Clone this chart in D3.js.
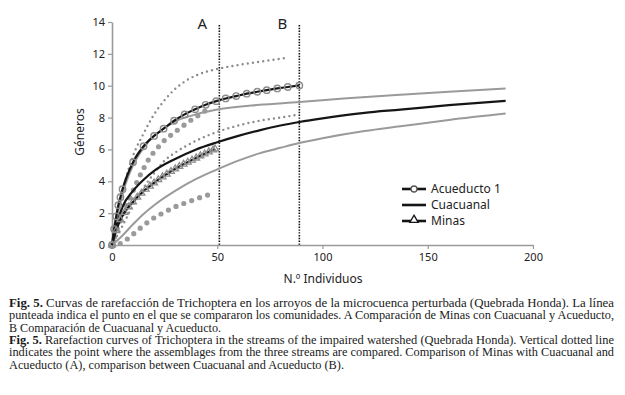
<!DOCTYPE html>
<html lang="es">
<head>
  <meta charset="UTF-8">
  <title>Fig. 5</title>
  <script src="https://d3js.org/d3.v7.min.js"></script>
  <style>
    * { margin: 0; padding: 0; box-sizing: border-box; }
    body { background: #fff; font-family: "Noto Sans", Arial, sans-serif; }
    .tick text { font-family: "Noto Sans", Arial, sans-serif; font-size: 11px; fill: #222; }
    .caption { font-family: "Liberation Serif", "Times New Roman", serif; font-size: 11.6px; fill: #1a1a1a; }
  </style>
</head>
<body>
<div id="chart"></div>
<script>
// Acueducto 1 (media + intervalos)
const acuN  = [0, 1, 2, 3, 4, 5, 10, 15, 20, 24.5, 29.5, 34.5, 39.5, 44.5, 49.5, 54, 59, 64, 69, 73.5, 78.5, 83.5, 89];
const acuS  = [0, 1.0, 1.8, 2.5, 3.0, 3.5, 5.2, 6.2, 6.85, 7.3, 7.8, 8.2, 8.52, 8.8, 9.03, 9.2, 9.35, 9.5, 9.62, 9.72, 9.83, 9.92, 10.02];
const acuUpN = [0, 2, 5, 10, 15, 20, 25, 30, 35, 40, 50, 60, 70, 83];
const acuUpS = [0, 1.6, 3.4, 5.6, 7.0, 8.2, 9.1, 9.8, 10.3, 10.65, 11.05, 11.3, 11.5, 11.75];
const acuLoN = [0, 5, 10, 15, 20, 25, 30, 35, 40, 50, 60, 70, 80, 89];
const acuLoS = [0, 1.2, 2.5, 3.6, 4.5, 5.3, 5.8, 6.2, 6.55, 7.1, 7.5, 7.8, 8.0, 8.2];

// Cuacuanal
const cuaN  = [0, 2, 5, 10, 15, 20, 30, 40, 50, 60, 70, 80, 89, 100, 120, 137, 160, 187];
const cuaS  = [0, 1.2, 2.4, 3.4, 4.1, 4.65, 5.4, 6.0, 6.45, 6.85, 7.2, 7.5, 7.72, 7.95, 8.3, 8.5, 8.78, 9.05];
const cuaUpN = [0, 2, 5, 10, 15, 20, 25, 30, 40, 50, 70, 89, 110, 137, 160, 187];
const cuaUpS = [0, 1.5, 3.2, 5.0, 6.1, 6.85, 7.35, 7.75, 8.2, 8.5, 8.8, 8.97, 9.2, 9.44, 9.62, 9.82];
const cuaLoN = [0, 5, 10, 15, 20, 30, 40, 50, 60, 70, 80, 89, 100, 120, 137, 160, 187];
const cuaLoS = [0, 0.6, 1.3, 1.95, 2.5, 3.4, 4.15, 4.75, 5.3, 5.75, 6.1, 6.4, 6.7, 7.15, 7.45, 7.85, 8.25];

// Minas
const minN  = [0, 2, 4, 6, 8, 10, 12, 14, 16, 18, 20, 22, 24, 26, 28, 30, 32, 34, 36, 38, 40, 42, 44, 46, 48, 49];
const minS  = [0, 0.9, 1.6, 2.05, 2.4, 2.7, 3.0, 3.25, 3.5, 3.7, 3.9, 4.1, 4.28, 4.45, 4.62, 4.78, 4.93, 5.07, 5.2, 5.33, 5.46, 5.6, 5.72, 5.85, 5.97, 6.03];
const minUpN = [0, 3, 6, 9, 12, 15, 18, 21, 24, 28, 32, 36, 40, 44, 47];
const minUpS = [0, 1.2, 2.2, 3.1, 4.0, 4.8, 5.5, 6.0, 6.45, 6.9, 7.3, 7.7, 8.05, 8.4, 8.6];
const minLoN = [0, 4, 8, 12, 15, 21, 25, 29, 33, 37, 41, 46];
const minLoS = [0, 0.1, 0.45, 0.9, 1.23, 1.79, 2.06, 2.34, 2.55, 2.75, 2.94, 3.16];

const xTicks = [0, 50, 100, 150, 200];
const yTicks = [0, 2, 4, 6, 8, 10, 12, 14];
const cutN = [51, 89];
const cutLabels = ["A", "B"];
const legendNames = ["Acueducto 1", "Cuacuanal", "Minas"];

const captionLines = [
  ["Fig. 5.", " Curvas de rarefacción de Trichoptera en los arroyos de la microcuenca perturbada (Quebrada Honda). La línea"],
  ["", "punteada indica el punto en el que se compararon los comunidades. A Comparación de Minas con Cuacuanal y Acueducto,"],
  ["", "B Comparación de Cuacuanal y Acueducto."],
  ["Fig. 5.", " Rarefaction curves of Trichoptera in the streams of the impaired watershed (Quebrada Honda). Vertical dotted line"],
  ["", "indicates the point where the assemblages from the three streams are compared. Comparison of Minas with Cuacuanal and"],
  ["", "Acueducto (A), comparison between Cuacuanal and Acueducto (B)."]
];
const captionWidths = [605, 605, 212, 605, 605, 335];

const W = 625, H = 395;
const svg = d3.select("#chart").append("svg")
  .attr("width", W).attr("height", H);

const x = d3.scaleLinear().domain([0, 200]).range([112, 533]);
const y = d3.scaleLinear().domain([0, 14]).range([245, 22]);

const zip = (a, b) => a.map((n, i) => [n, b[i]]);
const line = d3.line().x(d => x(d[0])).y(d => y(d[1])).curve(d3.curveMonotoneX);

// axes
const yAxis = svg.append("g")
  .attr("transform", "translate(112,0)")
  .call(d3.axisLeft(y).tickValues(yTicks).tickSize(4).tickSizeOuter(0).tickPadding(3));
const xAxis = svg.append("g")
  .attr("transform", "translate(0,245)")
  .call(d3.axisBottom(x).tickValues(xTicks).tickSize(4).tickSizeOuter(0).tickPadding(4));
[yAxis, xAxis].forEach(g => {
  g.select(".domain").attr("stroke", "#9a9a9a").attr("stroke-width", 1.6);
  g.selectAll(".tick line").attr("stroke", "#9a9a9a").attr("stroke-width", 1.2);
});

svg.append("text")
  .attr("transform", "translate(84,132) rotate(-90)")
  .attr("text-anchor", "middle")
  .style("font-size", "12px").style("fill", "#222")
  .text("Géneros");
svg.append("text")
  .attr("x", 323).attr("y", 283)
  .attr("text-anchor", "middle")
  .style("font-size", "12px").style("fill", "#222")
  .text("N.º Individuos");

// vertical dotted lines
cutN.forEach((n, i) => {
  svg.append("line")
    .attr("x1", x(n)).attr("x2", x(n))
    .attr("y1", 25).attr("y2", 245)
    .attr("stroke", "#111").attr("stroke-width", 1.6)
    .attr("stroke-dasharray", "1.4,1.4");
  svg.append("text")
    .attr("x", x(n) - 17).attr("y", 29)
    .attr("text-anchor", "middle")
    .style("font-size", "15px").style("fill", "#222")
    .text(cutLabels[i]);
});

// confidence curves
const ci = (data, style) => {
  const p = svg.append("path").datum(data).attr("d", line).attr("fill", "none");
  if (style === "solid") p.attr("stroke", "#9a9a9a").attr("stroke-width", 2);
  if (style === "small") p.attr("stroke", "#8c8c8c").attr("stroke-width", 2.4)
    .attr("stroke-linecap", "round").attr("stroke-dasharray", "0,5.2");
  if (style === "big") p.attr("stroke", "#9a9a9a").attr("stroke-width", 5.2)
    .attr("stroke-linecap", "round").attr("stroke-dasharray", "0,8.4");
};
ci(zip(cuaUpN, cuaUpS), "solid");
ci(zip(cuaLoN, cuaLoS), "solid");
ci(zip(acuUpN, acuUpS), "small");
ci(zip(acuLoN, acuLoS), "small");
ci(zip(minUpN, minUpS), "big");
ci(zip(minLoN, minLoS), "big");

// mean curves
[zip(cuaN, cuaS), zip(minN, minS), zip(acuN, acuS)].forEach(d => {
  svg.append("path").datum(d).attr("d", line)
    .attr("fill", "none").attr("stroke", "#151515").attr("stroke-width", 2.2);
});

// markers
svg.selectAll(".acu").data(zip(acuN, acuS)).enter().append("circle")
  .attr("class", "acu")
  .attr("cx", d => x(d[0])).attr("cy", d => y(d[1])).attr("r", 3.2)
  .attr("fill", "none").attr("stroke", "#8c8c8c").attr("stroke-width", 1.4);
const tri = d3.symbol().type(d3.symbolTriangle).size(20);
svg.selectAll(".min").data(zip(minN, minS)).enter().append("path")
  .attr("class", "min")
  .attr("transform", d => `translate(${x(d[0])},${y(d[1])})`)
  .attr("d", tri)
  .attr("fill", "none").attr("stroke", "#8c8c8c").attr("stroke-width", 1.3);

// legend
const lg = svg.append("g").attr("transform", "translate(402,189)");
legendNames.forEach((name, i) => {
  const g = lg.append("g").attr("transform", `translate(0,${i * 16})`);
  g.append("line").attr("x1", 0).attr("x2", 24).attr("y1", 0).attr("y2", 0)
    .attr("stroke", "#151515").attr("stroke-width", 2.6);
  if (i === 0) g.append("circle").attr("cx", 12).attr("cy", 0).attr("r", 3)
    .attr("fill", "#fff").attr("stroke", "#555").attr("stroke-width", 1.3);
  if (i === 2) g.append("path").attr("transform", "translate(12,-1)")
    .attr("d", d3.symbol().type(d3.symbolTriangle).size(30))
    .attr("fill", "#fff").attr("stroke", "#151515").attr("stroke-width", 1.3);
  g.append("text").attr("x", 29).attr("y", 4)
    .style("font-size", "12px").style("fill", "#222")
    .text(name);
});

// caption
const baselines = [306.5, 319, 331.5, 343.5, 356, 368.5];
captionLines.forEach((ln, i) => {
  const t = svg.append("text").attr("class", "caption")
    .attr("x", 9).attr("y", baselines[i])
    .attr("textLength", captionWidths[i])
    .attr("lengthAdjust", "spacingAndGlyphs");
  if (ln[0]) t.append("tspan").style("font-weight", "bold").text(ln[0]);
  t.append("tspan").text(ln[1]);
});
</script>
</body>
</html>
